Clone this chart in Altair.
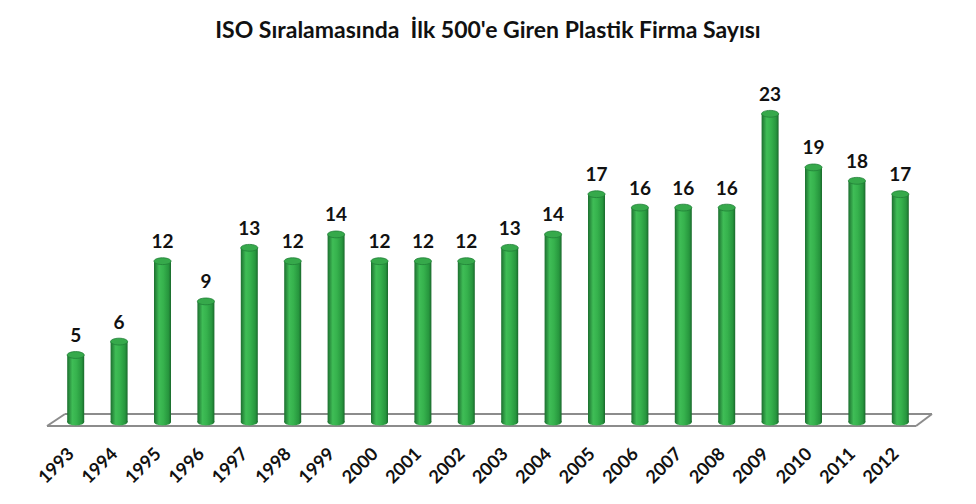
import altair as alt
import pandas as pd

years = [str(y) for y in range(1993, 2013)]
counts = [5, 6, 12, 9, 13, 12, 14, 12, 12, 12, 13, 14, 17, 16, 16, 16, 23, 19, 18, 17]
title_text = "ISO Sıralamasında\u00a0 İlk 500'e Giren Plastik Firma Sayısı"

df = pd.DataFrame({"year": years, "count": counts})

FONT = "Lato"
ELLIPSE = "M -1 0 A 1 0.4 0 1 0 1 0 A 1 0.4 0 1 0 -1 0 Z"

grad = alt.Gradient(
    gradient="linear", x1=0, x2=1, y1=0, y2=0,
    stops=[
        alt.GradientStop(color="#1c6f2f", offset=0),
        alt.GradientStop(color="#3fbd56", offset=0.3),
        alt.GradientStop(color="#36b24d", offset=0.55),
        alt.GradientStop(color="#27963e", offset=0.85),
        alt.GradientStop(color="#1a692c", offset=1),
    ],
)

x_enc = alt.X(
    "year:N", sort=years, title=None,
    scale=alt.Scale(paddingInner=0, paddingOuter=0),
    axis=alt.Axis(
        labelAngle=-45, labelAlign="right", labelBaseline="middle",
        labelFontSize=18, labelFont=FONT, labelFontWeight="bold",
        labelColor="#111111", labelPadding=29, domain=False, ticks=False,
        labelOffset=-4,
    ),
)
y_scale = alt.Scale(domain=[0, 25], nice=False, zero=True)
y_enc = alt.Y("count:Q", scale=y_scale, axis=None)

base = alt.Chart(df)

# floor (decoration)
floor_col = "#8c8c8c"
one = alt.Data(values=[{}])
floor = alt.layer(
    alt.Chart(one).mark_rule(color=floor_col, strokeWidth=2).encode(
        x=alt.value(11), x2=alt.value(878), y=alt.value(327), y2=alt.value(327)),
    alt.Chart(one).mark_rule(color=floor_col, strokeWidth=2).encode(
        x=alt.value(-7), x2=alt.value(862), y=alt.value(339), y2=alt.value(339)),
    alt.Chart(one).mark_rule(color=floor_col, strokeWidth=2).encode(
        x=alt.value(-7), x2=alt.value(11), y=alt.value(339), y2=alt.value(327)),
    alt.Chart(one).mark_rule(color=floor_col, strokeWidth=2).encode(
        x=alt.value(862), x2=alt.value(878), y=alt.value(339), y2=alt.value(327)),
)

bottoms = base.mark_point(shape=ELLIPSE, size=289, filled=True, fill=grad,
                          strokeWidth=0, opacity=1).encode(
    x=x_enc, y=alt.Y("zero:Q", scale=y_scale, axis=None)
).transform_calculate(zero="0")

bars = base.mark_bar(size=17, fill=grad).encode(x=x_enc, y=y_enc)

tops = base.mark_point(shape=ELLIPSE, size=289, filled=True, fill="#36a94b",
                       stroke="#217f37", strokeWidth=0.8, opacity=1).encode(
    x=x_enc, y=y_enc)

labels = base.mark_text(baseline="bottom", dy=-9, fontSize=19, font=FONT,
                        fontWeight="bold", color="#111111").encode(
    x=x_enc, y=y_enc, text="count:Q")

chart = alt.layer(floor, bottoms, bars, tops, labels).properties(
    width=868, height=335,
    title=alt.Title(title_text, fontSize=23, font=FONT, fontWeight="bold",
                    color="#111111", anchor="middle", frame="group", offset=43),
    autosize=alt.AutoSizeParams(type="none"),
    padding={"left": 54, "top": 87, "right": 54, "bottom": 82},
).configure_view(stroke=None).configure_axis(grid=False)

chart.save("out.html", embed_options={"renderer": "svg", "actions": False})
